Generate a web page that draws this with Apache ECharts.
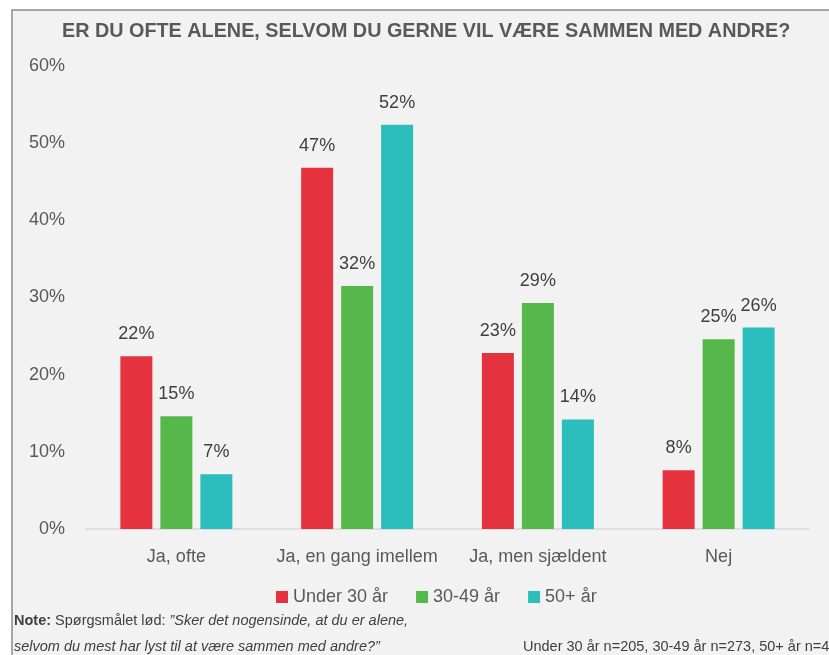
<!DOCTYPE html>
<html><head><meta charset="utf-8">
<script src="https://cdn.jsdelivr.net/npm/echarts@6/dist/echarts.min.js"></script>
<style>html,body{margin:0;padding:0;background:#fff;}#c{width:829px;height:655px;}</style>
</head><body><div id="c"></div>
<script>
const categories = ['Ja, ofte', 'Ja, en gang imellem', 'Ja, men sjældent', 'Nej'];
const seriesNames = ['Under 30 år', '30-49 år', '50+ år'];
const under30 = [22.4, 46.8, 22.8, 7.6];
const age30_49 = [14.6, 31.5, 29.3, 24.6];
const age50plus = [7.1, 52.4, 14.2, 26.1];
const labelsUnder30 = ['22%', '47%', '23%', '8%'];
const labels30_49 = ['15%', '32%', '29%', '25%'];
const labels50plus = ['7%', '52%', '14%', '26%'];
const yTicks = [0, 10, 20, 30, 40, 50, 60];
const colors = ['#E4323F', '#56B84B', '#2CBDBD'];
const FONT = 'Liberation Sans, sans-serif';

const chart = echarts.init(document.getElementById('c'));
function mk(name, data, labels, color) {
  return {
    name, type: 'bar', data, barWidth: 32, barGap: '25%',
    itemStyle: { color },
    label: { show: true, position: 'top', distance: 13, color: '#404040', fontSize: 18, fontFamily: FONT,
      formatter: p => labels[p.dataIndex] }
  };
}
chart.setOption({
  backgroundColor: '#fff',
  animation: false,
  graphic: [
    { type: 'rect', shape: { x: 12, y: 10, width: 830, height: 660 }, style: { fill: '#F2F2F2', stroke: '#8C8C8C', lineWidth: 1.5 }, z: -10 },
    { type: 'text', left: 14, top: 613, style: { text: '{b|Note:} Spørgsmålet lød: {i|”Sker det nogensinde, at du er alene,}', fontSize: 14.5, fontFamily: FONT, fill: '#404040',
        rich: { b: { fontWeight: 'bold', fontSize: 14.5, fontFamily: FONT, fill: '#404040' }, i: { fontStyle: 'italic', fontSize: 14.5, fontFamily: FONT, fill: '#404040' } } } },
    { type: 'text', left: 14, top: 639, style: { text: 'selvom du mest har lyst til at være sammen med andre?”', fontStyle: 'italic', fontSize: 14.5, fontFamily: FONT, fill: '#404040' } },
    { type: 'text', left: 523, top: 639, style: { text: 'Under 30 år n=205, 30-49 år n=273, 50+ år n=425', fontSize: 14.5, fontFamily: FONT, fill: '#404040' } }
  ],
  title: {
    text: 'ER DU OFTE ALENE, SELVOM DU GERNE VIL VÆRE SAMMEN MED ANDRE?',
    left: 57, top: 17,
    textStyle: { fontSize: 19.8, fontWeight: 'bold', color: '#595959', fontFamily: FONT }
  },
  legend: {
    data: seriesNames, bottom: 44, left: 271, itemWidth: 12, itemHeight: 12, itemGap: 28,
    icon: 'rect',
    textStyle: { fontSize: 18, color: '#595959', fontFamily: FONT }
  },
  grid: { left: 86, right: 20, top: 66, bottom: 126 },
  xAxis: {
    type: 'category', data: categories,
    axisLine: { lineStyle: { color: '#D9D9D9', width: 1.5 } },
    axisTick: { show: false },
    axisLabel: { fontSize: 18, color: '#595959', fontFamily: FONT, margin: 19, interval: 0 }
  },
  yAxis: {
    type: 'value', min: 0, max: 60, interval: 10,
    splitLine: { show: false },
    axisLine: { show: false }, axisTick: { show: false },
    axisLabel: { fontSize: 18, color: '#595959', fontFamily: FONT, margin: 21,
      formatter: v => yTicks.includes(v) ? v + '%' : '' }
  },
  series: [
    mk(seriesNames[0], under30, labelsUnder30, colors[0]),
    mk(seriesNames[1], age30_49, labels30_49, colors[1]),
    mk(seriesNames[2], age50plus, labels50plus, colors[2])
  ]
});
</script></body></html>
